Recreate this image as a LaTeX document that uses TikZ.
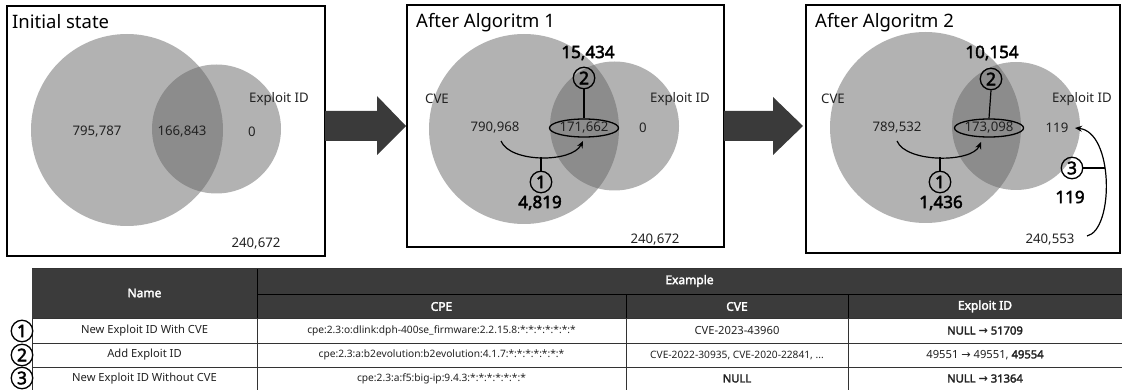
\documentclass[tikz,border=0pt]{standalone}
\usepackage{fontspec}
\setmainfont{Noto Sans}[AutoFakeBold=2.6]
\newfontfamily\arr{DejaVu Sans}
\usetikzlibrary{arrows.meta,shapes.geometric}
\definecolor{hdr}{HTML}{3B3B3B}
\definecolor{bigarr}{HTML}{3A3A3A}
\definecolor{txt}{HTML}{222222}
\begin{document}
\begin{tikzpicture}[x=1pt,y=-1pt,
  panel/.style={draw=black, line width=1.2pt},
  venn/.style={fill=black!60, fill opacity=0.5},
  num/.style={font=\fontsize{13.2}{15}\selectfont, inner sep=0pt, text=txt},
  bignum/.style={font=\fontsize{17}{19}\selectfont\bfseries, inner sep=0pt, text=black},
  ptitle/.style={font=\fontsize{18.5}{21}\selectfont, anchor=west, inner sep=0pt, text=black},
  cnum/.style={circle, draw, line width=1.3pt, minimum size=21.5pt, inner sep=0pt, font=\fontsize{17.5}{18}\selectfont\bfseries},
  ell/.style={ellipse, draw, line width=1.3pt, minimum width=64pt, minimum height=18pt, inner sep=0pt, font=\fontsize{13.2}{15}\selectfont, text=txt},
  conn/.style={line width=1.2pt},
  carr/.style={line width=1.2pt, -{Stealth[length=7pt,width=6pt]}},
  bigarrow/.style={fill=bigarr},
  tline/.style={draw=black!80, line width=0.8pt},
  hline/.style={draw=black, line width=0.8pt},
  htext/.style={font=\fontsize{12}{14}\selectfont\bfseries, text=white, inner sep=0pt},
  ctext/.style={font=\fontsize{11.2}{13}\selectfont, text=txt, inner sep=0pt},
  cpetext/.style={font=\fontsize{10.2}{12}\selectfont, text=txt, inner sep=0pt},
  cbold/.style={font=\fontsize{11.2}{13}\selectfont\bfseries, text=txt, inner sep=0pt}
]
\useasboundingbox (0,0) rectangle (1122,390);

% ---------- panel 1 ----------
\fill[venn] (127,130) circle (96);
\fill[venn] (216.5,129) circle (64.5);
\draw[panel] (7,6) rectangle (325,256);
\node[ptitle] (t1) at (12,22) {Initial state};
\node[num] (a1) at (97,132) {795,787};
\node[num] (b1) at (182,132) {166,843};
\node[num] (z1) at (252,132) {0};
\node[num] (x1) at (279,99) {Exploit ID};
\node[num] (o1) at (256,244) {240,672};

% big arrow 1
\fill[bigarrow] (325,111) -- (377,111) -- (377,96) -- (406,126) -- (377,155) -- (377,141) -- (325,141) -- cycle;

% ---------- panel 2 ----------
\fill[venn] (524,129) circle (95);
\fill[venn] (614.5,126) circle (64.5);
\draw[panel] (407,5) rectangle (724,247);
\node[ptitle] (t2) at (416,23) {After Algoritm 1};
\node[num] (cv2) at (437,99) {CVE};
\node[num] (x2) at (680,99) {Exploit ID};
\node[num] (a2) at (495,128) {790,968};
\node[ell] (e2) at (584,128) {171,662};
\node[num] (z2) at (643,128) {0};
\node[num] (o2) at (655,240) {240,672};
\node[cnum] (c2b) at (584,78) {2};
\node[bignum] (n2b) at (588,53) {15,434};
\node[cnum] (c1b) at (541,182) {1};
\node[bignum] (n1b) at (540,203) {4,819};
\coordinate (s2) at (501,141);
\coordinate (f2) at (583,141);
\coordinate (m2) at (541,157.5);
\draw[carr] (s2) .. controls (510,163) and (572,163) .. (f2);
\draw[conn] (c1b.north) -- (m2);
\draw[conn] (c2b.south) -- (e2.north);

% big arrow 2
\fill[bigarrow] (724,111) -- (773,111) -- (773,97) -- (803,126) -- (773,155) -- (773,141) -- (724,141) -- cycle;

% ---------- panel 3 ----------
\fill[venn] (925.5,127.5) circle (95.5);
\fill[venn] (1016,126) circle (64);
\draw[panel] (806,5) rectangle (1120,253);
\node[ptitle] (t3) at (815,23) {After Algoritm 2};
\node[num] (cv3) at (833,99) {CVE};
\node[num] (x3) at (1082,99) {Exploit ID};
\node[num] (a3) at (897,128) {789,532};
\node[ell] (e3) at (989,128) {173,098};
\node[num] (z3) at (1057,128) {119};
\node[num] (o3) at (1050,240) {240,553};
\node[cnum] (c2c) at (991,79) {2};
\node[bignum] (n2c) at (992,53) {10,154};
\node[cnum] (c1c) at (940,182) {1};
\node[bignum] (n1c) at (941,203) {1,436};
\node[cnum] (c3c) at (1072,168) {3};
\node[bignum] (n3c) at (1070,197) {119};
\coordinate (s3) at (897,141);
\coordinate (f3) at (981,142);
\coordinate (m3) at (940,157.5);
\draw[carr] (s3) .. controls (906,163) and (972,163) .. (f3);
\draw[conn] (c1c.north) -- (m3);
\draw[conn] (c2c.south) -- (e3.north);
\coordinate (s4) at (1087,236);
\coordinate (f4) at (1075,128);
\coordinate (k4) at (1104.5,168);
\draw[carr] (s4) .. controls (1114,230) and (1114,132) .. (f4);
\draw[conn] (c3c.east) -- (k4);

% ---------- table ----------
\fill[hdr] (32,268) rectangle (1122,318);
% white-area grid
\draw[tline] (32,343) -- (1122,343);
\draw[tline] (32,367) -- (1122,367);
\draw[tline] (32,318) -- (32,390);
\draw[tline] (257,318) -- (257,390);
\draw[tline] (626,318) -- (626,390);
\draw[tline] (848,318) -- (848,390);
% header grid
\draw[hline] (257,268) -- (257,318);
\draw[hline] (257,294) -- (1122,294);
\draw[hline] (626,294) -- (626,318);
\draw[hline] (848,294) -- (848,318);
\draw[tline] (32,318) -- (1122,318);
\draw[tline] (32,268) -- (1122,268);

\node[htext] (hname) at (144.5,293) {Name};
\node[htext] (hex) at (689.5,281) {Example};
\node[htext] (hcpe) at (441.5,306.5) {CPE};
\node[htext] (hcve) at (737,306.5) {CVE};
\node[htext] (hexp) at (985,306.5) {Exploit ID};

\node[ctext] (r1n) at (144.5,330.5) {New Exploit ID With CVE};
\node[cpetext] (r1p) at (441.5,330.5) {cpe:2.3:o:dlink:dph-400se\_firmware:2.2.15.8:*:*:*:*:*:*:*};
\node[ctext] (r1c) at (737,330.5) {CVE-2023-43960};
\node[cbold] (r1e) at (985,330.5) {NULL {\arr\bfseries→} 51709};

\node[ctext] (r2n) at (144.5,355) {Add Exploit ID};
\node[cpetext] (r2p) at (441.5,355) {cpe:2.3:a:b2evolution:b2evolution:4.1.7:*:*:*:*:*:*:*};
\node[cpetext] (r2c) at (737,355) {CVE-2022-30935, CVE-2020-22841, ...};
\node[ctext] (r2e) at (985,355) {49551 {\arr→} 49551, \textbf{49554}};

\node[ctext] (r3n) at (144.5,378.5) {New Exploit ID Without CVE};
\node[cpetext] (r3p) at (441.5,378.5) {cpe:2.3:a:f5:big-ip:9.4.3:*:*:*:*:*:*:*};
\node[cbold] (r3c) at (737,378.5) {NULL};
\node[cbold] (r3e) at (985,378.5) {NULL {\arr\bfseries→} 31364};

\node[cnum] (k1) at (22,331) {1};
\node[cnum] (k2) at (22,355) {2};
\node[cnum] (k3) at (22,378) {3};
\end{tikzpicture}
\end{document}
